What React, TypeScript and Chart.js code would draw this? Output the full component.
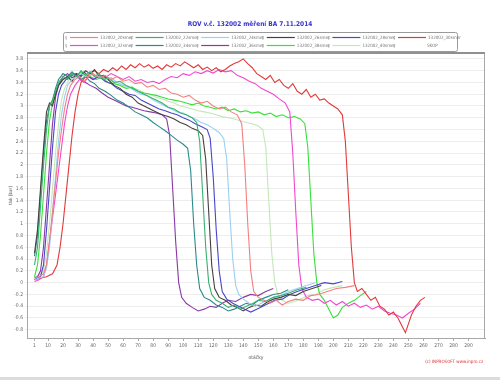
import React, { useEffect, useRef } from "react";
import { Chart, registerables } from "chart.js";

Chart.register(...registerables);

const TITLE = "ROV v.č. 132002 měření BA 7.11.2014";
const X_TITLE = "otáčky";
const Y_TITLE = "tlak [bar]";
const FOOTER = "(c) INPROSOFT www.inpro.cz";
const EXTRA_LEGEND = "SKOP";

const X_TICKS = [1, 10, 20, 30, 40, 50, 60, 70, 80, 90, 100, 110, 120, 130, 140, 150, 160, 170, 180, 190, 200, 210, 220, 230, 240, 250, 260, 270, 280, 290];
const Y_TICKS = [-0.8, -0.6, -0.4, -0.2, 0, 0.2, 0.4, 0.6, 0.8, 1, 1.2, 1.4, 1.6, 1.8, 2, 2.2, 2.4, 2.6, 2.8, 3, 3.2, 3.4, 3.6, 3.8];

const SERIES_NAMES = [
  "132002_20smer", "132002_22smer", "132002_24smer", "132002_26smer", "132002_28smer", "132002_30smer",
  "132002_32smer", "132002_34smer", "132002_36smer", "132002_38smer", "132002_40smer",
];
const SERIES_COLORS = [
  "#f28080", "#38b070", "#9ad0f5", "#4a3e3e", "#4848c8", "#e23a3a",
  "#f048d0", "#2a8a8a", "#8a38a8", "#38e038", "#c4e6b8",
];

type P = [number, number];

const S20: P[] = [[1,0.08],[4,0.1],[7,0.15],[9,0.3],[11,0.7],[13,1.2],[15,1.7],[17,2.2],[19,2.6],[21,2.95],[23,3.2],[25,3.35],[28,3.45],[31,3.5],[34,3.42],[37,3.5],[40,3.55],[44,3.48],[48,3.52],[52,3.45],[56,3.5],[60,3.42],[64,3.45],[68,3.38],[72,3.4],[76,3.32],[80,3.35],[84,3.28],[88,3.3],[92,3.22],[96,3.2],[100,3.15],[104,3.18],[108,3.1],[112,3.05],[116,3.08],[120,3.0],[124,2.95],[128,2.98],[132,2.9],[136,2.85],[139,2.7],[141,2.0],[143,1.0],[145,0.2],[147,-0.15],[150,-0.25],[154,-0.3],[158,-0.35],[162,-0.3],[166,-0.38],[170,-0.32],[175,-0.28],[180,-0.3],[185,-0.22],[190,-0.2],[196,-0.15],[202,-0.1],[208,-0.08],[214,-0.05]];

const S22: P[] = [[1,0.3],[3,0.6],[5,1.3],[7,2.0],[9,2.6],[11,3.0],[13,3.1],[15,3.25],[17,3.4],[20,3.5],[23,3.45],[26,3.55],[29,3.5],[32,3.6],[35,3.52],[38,3.58],[41,3.5],[44,3.55],[47,3.45],[50,3.48],[54,3.4],[58,3.42],[62,3.35],[66,3.3],[70,3.25],[74,3.2],[78,3.15],[82,3.1],[86,3.05],[90,2.98],[94,2.95],[98,2.88],[102,2.85],[106,2.8],[109,2.72],[111,2.4],[113,1.5],[115,0.6],[117,0.0],[119,-0.2],[122,-0.3],[126,-0.35],[130,-0.42],[134,-0.38],[138,-0.45],[142,-0.4],[146,-0.36],[150,-0.3],[155,-0.32],[160,-0.25],[165,-0.22],[170,-0.18],[176,-0.12],[182,-0.08]];

const S24: P[] = [[1,0.05],[4,0.08],[7,0.1],[9,0.25],[11,0.6],[13,1.2],[15,1.8],[17,2.4],[19,2.85],[21,3.15],[23,3.35],[26,3.45],[29,3.5],[32,3.55],[35,3.5],[38,3.58],[41,3.52],[44,3.5],[48,3.45],[52,3.48],[56,3.4],[60,3.35],[64,3.32],[68,3.25],[72,3.2],[76,3.18],[80,3.1],[84,3.05],[88,3.0],[92,2.95],[96,2.9],[100,2.88],[104,2.82],[108,2.78],[112,2.72],[116,2.68],[120,2.62],[124,2.55],[127,2.45],[129,2.1],[131,1.2],[133,0.4],[135,-0.05],[137,-0.2],[140,-0.28],[144,-0.35],[148,-0.4],[152,-0.35],[156,-0.3],[160,-0.25],[165,-0.22],[170,-0.15],[176,-0.1],[182,-0.05],[188,0.0]];

const S26: P[] = [[1,0.5],[3,0.9],[5,1.6],[7,2.3],[9,2.9],[11,3.05],[13,3.0],[15,3.2],[17,3.35],[20,3.45],[23,3.5],[26,3.42],[29,3.55],[32,3.5],[35,3.6],[38,3.55],[41,3.62],[44,3.5],[47,3.52],[50,3.45],[54,3.35],[58,3.3],[62,3.2],[66,3.15],[70,3.05],[74,3.0],[78,2.95],[82,2.9],[86,2.85],[90,2.82],[94,2.78],[98,2.72],[102,2.68],[106,2.62],[110,2.58],[113,2.5],[115,2.1],[117,1.2],[119,0.3],[121,-0.1],[124,-0.25],[128,-0.3],[132,-0.38],[136,-0.42],[140,-0.48],[144,-0.42],[148,-0.38],[152,-0.4],[156,-0.33],[160,-0.28],[165,-0.25],[170,-0.2],[175,-0.22],[180,-0.15],[186,-0.1],[192,-0.05]];

const S28: P[] = [[1,0.05],[3,0.08],[5,0.1],[7,0.3],[9,0.9],[11,1.6],[13,2.3],[15,2.9],[17,3.2],[19,3.35],[22,3.45],[25,3.5],[28,3.55],[31,3.5],[34,3.58],[37,3.5],[40,3.45],[44,3.5],[48,3.42],[52,3.38],[56,3.3],[60,3.25],[64,3.2],[68,3.18],[72,3.1],[76,3.05],[80,3.0],[84,2.95],[88,2.92],[92,2.88],[96,2.85],[100,2.8],[104,2.76],[108,2.7],[112,2.65],[116,2.6],[118,2.45],[120,1.8],[122,0.9],[124,0.2],[126,-0.15],[129,-0.28],[133,-0.35],[137,-0.4],[141,-0.45],[145,-0.5],[149,-0.45],[153,-0.4],[157,-0.35],[161,-0.3],[166,-0.28],[171,-0.2],[176,-0.15],[182,-0.1],[188,-0.05],[194,0.0],[200,-0.02],[206,0.02]];

const S30: P[] = [[1,0.05],[5,0.08],[9,0.1],[13,0.15],[16,0.3],[18,0.6],[20,1.0],[22,1.5],[24,2.0],[26,2.5],[28,2.9],[30,3.2],[32,3.4],[35,3.5],[38,3.55],[41,3.6],[44,3.55],[47,3.62],[50,3.58],[53,3.65],[56,3.6],[59,3.68],[62,3.62],[65,3.7],[68,3.65],[71,3.72],[74,3.66],[77,3.7],[80,3.64],[83,3.68],[86,3.62],[89,3.7],[92,3.66],[95,3.72],[98,3.68],[101,3.75],[104,3.7],[107,3.65],[110,3.7],[113,3.62],[116,3.66],[119,3.6],[122,3.65],[125,3.58],[128,3.62],[131,3.68],[134,3.72],[137,3.75],[140,3.8],[143,3.72],[146,3.65],[149,3.55],[152,3.5],[155,3.45],[158,3.52],[161,3.4],[164,3.45],[167,3.35],[170,3.3],[173,3.38],[176,3.25],[179,3.2],[182,3.28],[185,3.15],[188,3.2],[191,3.1],[194,3.12],[197,3.05],[200,3.0],[203,2.95],[206,2.85],[208,2.4],[210,1.5],[212,0.6],[214,0.0],[216,-0.15],[219,-0.1],[222,-0.2],[225,-0.3],[228,-0.25],[231,-0.4],[234,-0.45],[237,-0.55],[240,-0.5],[243,-0.6],[246,-0.75],[248,-0.85],[250,-0.7],[252,-0.55],[255,-0.4],[258,-0.3],[261,-0.25]];

const S32: P[] = [[1,0.02],[4,0.05],[7,0.1],[9,0.3],[11,0.7],[13,1.1],[15,1.5],[17,1.9],[19,2.3],[21,2.7],[23,3.0],[25,3.2],[28,3.35],[31,3.45],[34,3.4],[37,3.5],[40,3.45],[44,3.52],[48,3.48],[52,3.55],[56,3.5],[60,3.45],[64,3.5],[68,3.42],[72,3.45],[76,3.4],[80,3.42],[84,3.38],[88,3.45],[92,3.5],[96,3.48],[100,3.55],[104,3.52],[108,3.58],[112,3.55],[116,3.6],[120,3.56],[124,3.62],[128,3.58],[132,3.6],[136,3.52],[140,3.48],[144,3.42],[148,3.38],[152,3.3],[156,3.25],[160,3.2],[164,3.12],[168,3.05],[171,2.9],[173,2.2],[175,1.2],[177,0.3],[179,-0.1],[182,-0.25],[186,-0.3],[190,-0.28],[194,-0.35],[198,-0.3],[202,-0.38],[206,-0.32],[210,-0.4],[214,-0.35],[218,-0.42],[222,-0.38],[226,-0.45],[230,-0.4],[234,-0.48],[238,-0.52],[242,-0.55],[246,-0.6],[250,-0.52],[254,-0.45],[258,-0.35]];

const S34: P[] = [[1,0.45],[3,0.8],[5,1.5],[7,2.2],[9,2.75],[11,3.0],[13,3.1],[15,3.3],[17,3.45],[20,3.55],[23,3.5],[26,3.58],[29,3.5],[32,3.45],[35,3.5],[38,3.42],[41,3.38],[44,3.3],[48,3.25],[52,3.18],[56,3.1],[60,3.05],[64,2.98],[68,2.9],[72,2.85],[76,2.8],[80,2.72],[84,2.65],[88,2.58],[92,2.5],[96,2.42],[100,2.35],[103,2.28],[105,1.9],[107,1.0],[109,0.3],[111,-0.1],[114,-0.25],[118,-0.3],[122,-0.38],[126,-0.42],[130,-0.48],[134,-0.45],[138,-0.4],[142,-0.35],[146,-0.38],[150,-0.3],[155,-0.25],[160,-0.2],[165,-0.18],[170,-0.12]];

const S36: P[] = [[1,0.08],[3,0.1],[5,0.2],[7,0.6],[9,1.3],[11,2.0],[13,2.7],[15,3.15],[17,3.35],[20,3.5],[23,3.55],[26,3.48],[29,3.52],[32,3.45],[35,3.4],[38,3.35],[42,3.3],[46,3.22],[50,3.15],[54,3.1],[58,3.05],[62,3.0],[66,2.98],[70,2.95],[74,2.92],[78,2.9],[82,2.88],[86,2.85],[89,2.78],[91,2.5],[93,1.6],[95,0.7],[97,0.0],[99,-0.25],[102,-0.35],[106,-0.42],[110,-0.48],[114,-0.45],[118,-0.4],[122,-0.42],[126,-0.35],[130,-0.3],[135,-0.32],[140,-0.25],[145,-0.2],[150,-0.22],[155,-0.15],[160,-0.1]];

const S38: P[] = [[1,0.1],[3,0.3],[5,0.8],[7,1.5],[9,2.2],[11,2.75],[13,3.05],[15,3.2],[17,3.35],[20,3.45],[23,3.5],[26,3.55],[29,3.5],[32,3.58],[35,3.52],[38,3.5],[42,3.45],[46,3.48],[50,3.4],[54,3.38],[58,3.35],[62,3.3],[66,3.32],[70,3.25],[74,3.22],[78,3.2],[82,3.18],[86,3.15],[90,3.12],[94,3.1],[98,3.08],[102,3.05],[106,3.02],[110,3.05],[114,3.0],[118,2.98],[122,2.95],[126,2.98],[130,2.92],[134,2.95],[138,2.9],[142,2.92],[146,2.88],[150,2.9],[154,2.85],[158,2.88],[162,2.82],[166,2.85],[170,2.8],[174,2.82],[178,2.78],[181,2.7],[183,2.3],[185,1.4],[187,0.5],[189,0.0],[191,-0.2],[194,-0.3],[197,-0.45],[200,-0.6],[203,-0.55],[206,-0.42],[210,-0.35],[214,-0.3],[218,-0.22],[222,-0.15]];

const S40: P[] = [[1,0.1],[4,0.12],[7,0.2],[9,0.5],[11,1.0],[13,1.6],[15,2.2],[17,2.7],[19,3.1],[21,3.3],[24,3.45],[27,3.5],[30,3.55],[34,3.5],[38,3.55],[42,3.48],[46,3.5],[50,3.45],[54,3.42],[58,3.38],[62,3.35],[66,3.3],[70,3.28],[74,3.22],[78,3.2],[82,3.15],[86,3.12],[90,3.08],[94,3.05],[98,3.0],[102,2.98],[106,2.95],[110,2.92],[114,2.9],[118,2.88],[122,2.85],[126,2.82],[130,2.8],[134,2.78],[138,2.75],[142,2.72],[146,2.7],[150,2.66],[153,2.6],[155,2.3],[157,1.4],[159,0.5],[161,0.0],[163,-0.2],[166,-0.3],[170,-0.35],[174,-0.32],[178,-0.28],[183,-0.22],[188,-0.2],[194,-0.12],[200,-0.08],[206,-0.05]];

const SERIES: P[][] = [S20, S22, S24, S26, S28, S30, S32, S34, S36, S38, S40];

const FONT = "'Liberation Sans Narrow', 'DejaVu Sans Condensed', 'Liberation Sans', sans-serif";

const decorPlugin = {
  id: "decor",
  afterDraw(chart: any) {
    const ctx = chart.ctx as CanvasRenderingContext2D;
    const a = chart.chartArea;
    ctx.save();
    // plot frame
    ctx.strokeStyle = "#a8a8a8";
    ctx.lineWidth = 1;
    ctx.strokeRect(a.left + 0.5, a.top + 0.5, a.right - a.left - 1, a.bottom - a.top);
    ctx.strokeStyle = "#909090";
    ctx.lineWidth = 2;
    ctx.beginPath();
    ctx.moveTo(a.left, a.top);
    ctx.lineTo(a.right, a.top);
    ctx.stroke();

    // title
    ctx.fillStyle = "#3434d0";
    ctx.font = `bold 6.5px ${FONT}`;
    ctx.textAlign = "center";
    ctx.textBaseline = "middle";
    ctx.fillText(TITLE, 250, 24);

    // legend box
    const bx = 63, by = 32, bw = 394, bh = 19;
    ctx.fillStyle = "#ffffff";
    ctx.strokeStyle = "#9a9a9a";
    ctx.lineWidth = 1;
    ctx.beginPath();
    (ctx as any).roundRect(bx + 0.5, by + 0.5, bw, bh, 2);
    ctx.fill();
    ctx.stroke();

    const items = chart.data.datasets.map((d: any) => ({ label: d.label, color: d.borderColor as string | null }));
    items.push({ label: EXTRA_LEGEND, color: null });
    items.forEach((it: any, i: number) => {
      const col = i % 6;
      const row = Math.floor(i / 6);
      const x0 = 65 + col * 65.6;
      const y = 37.5 + row * 8;
      ctx.fillStyle = "#8a8a8a";
      ctx.font = `5px ${FONT}`;
      ctx.textAlign = "left";
      ctx.textBaseline = "middle";
      ctx.fillText("ş", x0, y);
      if (it.color) {
        ctx.strokeStyle = it.color;
        ctx.lineWidth = 1.2;
        ctx.beginPath();
        ctx.moveTo(x0 + 5, y);
        ctx.lineTo(x0 + 33, y);
        ctx.stroke();
        ctx.fillStyle = "#777";
        ctx.font = `4.5px ${FONT}`;
        ctx.fillText(it.label, x0 + 35, y);
      } else {
        ctx.fillStyle = "#777";
        ctx.font = `4.5px ${FONT}`;
        ctx.fillText(it.label, x0 + 34, y);
      }
    });

    // footer
    ctx.fillStyle = "#e03030";
    ctx.font = `4.5px ${FONT}`;
    ctx.textAlign = "right";
    ctx.fillText(FOOTER, 483, 362);

    // bottom frame band
    ctx.fillStyle = "#dcdcdc";
    ctx.fillRect(0, 377, 500, 3);
    ctx.restore();
  },
};

function fmt(v: number): string {
  const r = Math.round(v * 10) / 10;
  return String(r);
}

export default function App() {
  const ref = useRef<HTMLCanvasElement | null>(null);

  useEffect(() => {
    if (!ref.current) return;
    const chart = new Chart(ref.current, {
      type: "line",
      data: {
        datasets: SERIES.map((s, i) => ({
          label: SERIES_NAMES[i],
          data: s.map(([x, y]) => ({ x, y })),
          borderColor: SERIES_COLORS[i],
          backgroundColor: SERIES_COLORS[i],
          borderWidth: 1.1,
          pointRadius: 0,
          fill: false,
          tension: 0,
        })),
      },
      options: {
        animation: false,
        responsive: true,
        maintainAspectRatio: false,
        layout: { padding: { left: 6, right: 15, top: 53, bottom: 10 } },
        plugins: {
          legend: { display: false },
          title: { display: false },
          tooltip: { enabled: false },
        },
        scales: {
          x: {
            type: "linear",
            min: -4,
            max: 301,
            afterBuildTicks: (s: any) => {
              s.ticks = X_TICKS.map((v) => ({ value: v }));
            },
            afterFit: (s: any) => {
              s.height = 32;
            },
            ticks: {
              autoSkip: false,
              maxRotation: 0,
              padding: 2,
              color: "#666",
              font: { size: 5, family: FONT },
              callback: (v: any) => String(v),
            },
            grid: { drawOnChartArea: false, tickLength: 3, color: "#aaa" },
            border: { color: "#a8a8a8" },
            title: {
              display: true,
              text: X_TITLE,
              color: "#555",
              font: { size: 5, family: FONT },
              padding: { top: 2, bottom: 9 },
            },
          },
          y: {
            type: "linear",
            min: -0.94,
            max: 3.9,
            afterBuildTicks: (s: any) => {
              s.ticks = Y_TICKS.map((v) => ({ value: v }));
            },
            afterFit: (s: any) => {
              s.width = 21;
            },
            ticks: {
              padding: 2,
              color: "#666",
              font: { size: 5, family: FONT },
              callback: (v: any) => fmt(Number(v)),
            },
            grid: { color: "#ededed", tickLength: 2 },
            border: { color: "#a8a8a8" },
            title: {
              display: true,
              text: Y_TITLE,
              color: "#555",
              font: { size: 4.5, family: FONT },
              padding: { top: 2, bottom: 2 },
            },
          },
        },
      },
      plugins: [decorPlugin],
    } as any);
    return () => chart.destroy();
  }, []);

  return (
    <div style={{ position: "fixed", left: 0, top: 0, width: 500, height: 380, background: "#fff" }}>
      <canvas ref={ref} />
    </div>
  );
}
